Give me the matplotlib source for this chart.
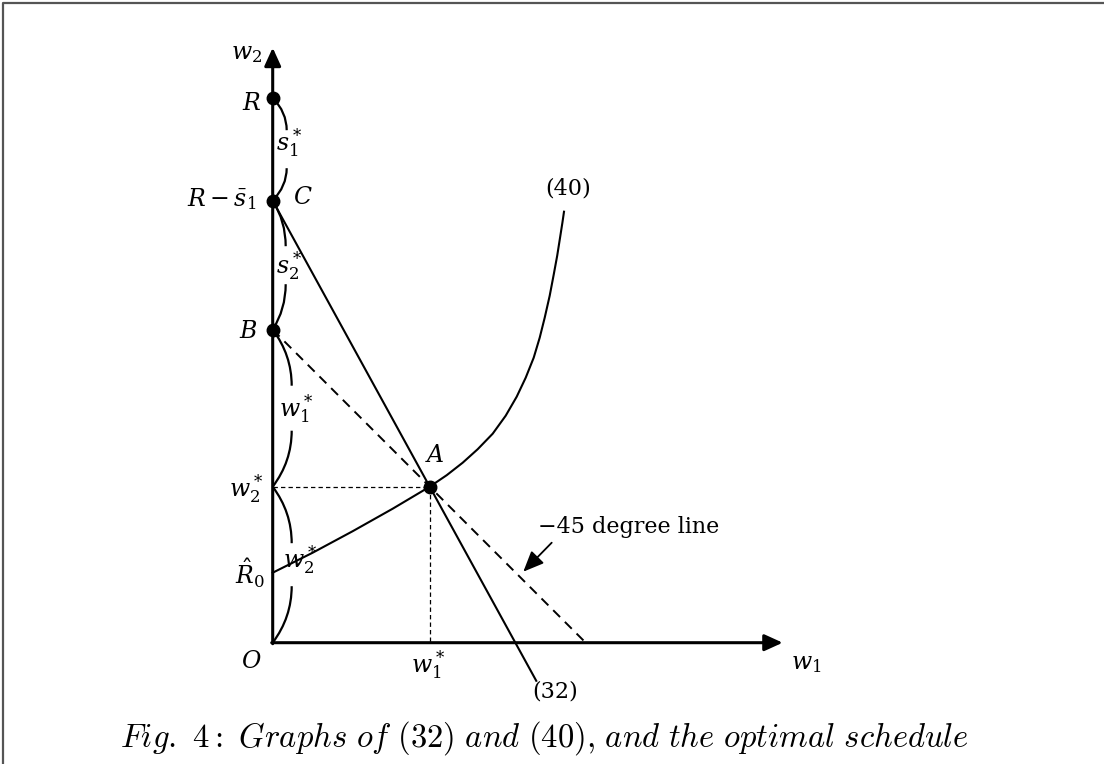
import numpy as np
import matplotlib.pyplot as plt
from matplotlib.path import Path
from matplotlib.patches import PathPatch

w1_star = 157
w2_star = 156
R = 545
s1_bar = 103
R_hat0 = 70
C = R - s1_bar
B = w1_star + w2_star
# curve (40)
curve40_w1 = [0, 40, 80, 120, 157, 174, 190, 205, 220, 233, 244, 253, 261,
              267, 272, 277, 281, 284.5, 287.5, 289.7, 291.3]
curve40_w2 = [70, 90, 111.5, 134, 156, 167.5, 180, 193.5, 209, 227, 246, 265,
              285, 305, 325, 347, 368, 387, 406, 420, 431]
line32_bottom = -39
w1_axis_end = 510
w2_axis_end = 595

plt.rcParams['mathtext.fontset'] = 'dejavuserif'
fig = plt.figure(figsize=(11.04, 7.64), dpi=100)
ax = fig.add_axes([0, 0, 1, 1])
ax.set_xlim(-272.7, 831.3)
ax.set_ylim(-121.3, 642.7)
ax.axis('off')

# frame (top and left edges only)
fig.add_artist(plt.Line2D([0.0025, 0.0025, 1.0], [0.0, 0.9965, 0.9965],
                          transform=fig.transFigure, color='#555555', lw=1.6))

# axes with arrows
axis_arrow = dict(arrowstyle='-|>,head_length=0.55,head_width=0.25', lw=2.2,
                  color='black', mutation_scale=20, shrinkA=0, shrinkB=0)
ax.annotate('', xy=(w1_axis_end, 0), xytext=(-1, 0), arrowprops=axis_arrow)
ax.annotate('', xy=(0, w2_axis_end), xytext=(0, -1), arrowprops=axis_arrow)

# line (32) through C and A
slope32 = (w2_star - C) / w1_star
x32_end = (line32_bottom - C) / slope32
ax.plot([0, x32_end], [C, line32_bottom], color='black', lw=1.5,
        solid_capstyle='butt')

# -45 degree line from B
ax.plot([0, B], [B, 0], color='black', lw=1.4, ls=(0, (5, 3.5)))

# curve (40)
ax.plot(curve40_w1, curve40_w2, color='black', lw=1.5,
        solid_joinstyle='round')

# dotted guides
ax.plot([0, w1_star], [w2_star, w2_star], color='black', lw=0.9, ls=(0, (3.5, 2.5)))
ax.plot([w1_star, w1_star], [w2_star, 0], color='black', lw=0.9, ls=(0, (3.5, 2.5)))

# dots
ax.plot([0, 0, 0, w1_star], [R, C, B, w2_star], 'o', color='black', ms=9)


def brace(y_top, y_bot, depth, gap):
    mid = (y_top + y_bot) / 2
    top_end = mid + gap / 2
    bot_start = mid - gap / 2
    L1 = y_top - top_end
    L2 = bot_start - y_bot
    for verts in ([(0, y_top), (depth, y_top - 0.45 * L1), (depth, top_end)],
                  [(depth, bot_start), (depth, y_bot + 0.45 * L2), (0, y_bot)]):
        p = Path(verts, [Path.MOVETO, Path.CURVE3, Path.CURVE3])
        ax.add_patch(PathPatch(p, fill=False, lw=1.6, color='black'))


brace(R, C, 14, 38)
brace(C, B, 13, 38)
brace(B, w2_star, 19, 45)
brace(w2_star, 0, 19, 43)

# -45 degree annotation
ax.annotate('', xy=(250.6, 71), xytext=(279, 100),
            arrowprops=dict(arrowstyle='-|>,head_length=0.7,head_width=0.3',
                            lw=1.3, color='black', mutation_scale=18,
                            shrinkA=0, shrinkB=0))
fs = 16
ax.text(265, 116, '\u221245 degree line', fontsize=fs, family='DejaVu Serif',
        ha='left', va='center')
ax.text(295, 454, '(40)', fontsize=fs, family='DejaVu Serif', ha='center', va='center')
ax.text(282, -49, '(32)', fontsize=fs, family='DejaVu Serif', ha='center', va='center')

# labels
labels = [
    (-26, 590, r'$w_2$', 'center'),
    (-21, 540, r'$R$', 'center'),
    (-16, 444, r'$R-\bar{s}_1$', 'right'),
    (30, 446, r'$C$', 'center'),
    (-24, 312, r'$B$', 'center'),
    (-9, 154, r'$w_2^*$', 'right'),
    (-8, 69, r'$\hat{R}_0$', 'right'),
    (-21, -18, r'$O$', 'center'),
    (156, -22, r'$w_1^*$', 'center'),
    (534, -20, r'$w_1$', 'center'),
    (162, 188, r'$A$', 'center'),
    (16.5, 500, r'$s_1^*$', 'center'),
    (16.5, 377, r'$s_2^*$', 'center'),
    (24, 234, r'$w_1^*$', 'center'),
    (28, 83, r'$w_2^*$', 'center'),
]
for x, y, s, ha in labels:
    ax.text(x, y, s, fontsize=17, ha=ha, va='center')

ax.text(272, -95, r'$\mathit{Fig.\ 4{:}\ Graphs\ of\ (32)\ and\ (40){,}\ and\ the\ optimal\ schedule}$',
        fontsize=23.5, ha='center', va='center', math_fontfamily='cm')

fig.savefig('out.png', dpi=100)
